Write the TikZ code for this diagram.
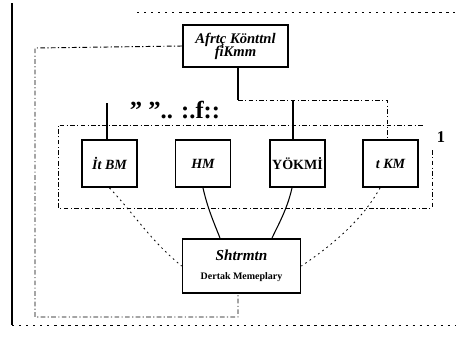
\documentclass[tikz,border=0pt]{standalone}
\usepackage{fontspec}
\setmainfont{Liberation Serif}
\begin{document}
\begin{tikzpicture}[x=0.03cm,y=-0.03cm,
  unitbox/.style={draw,line width=1.6pt,minimum width=1.65cm,minimum height=1.41cm,
    inner sep=1pt,font=\fontsize{12}{13}\selectfont\bfseries\itshape},
  bigbox/.style={draw,line width=1.6pt,inner sep=1pt,align=center},
  frameline/.style={line width=0.8pt,dash pattern=on 2pt off 4pt},
  loopline/.style={line width=0.8pt,dash pattern=on 4pt off 2pt on 1pt off 2pt},
  linkline/.style={line width=0.9pt},
  softlink/.style={line width=0.7pt,dash pattern=on 1.5pt off 3pt}]
\useasboundingbox (0,0) rectangle (457,353);
% outer frame
\draw[line width=1pt] (12,3) -- (12,325);
\draw[frameline] (12,325) -- (455,325);
\draw[frameline] (137,12) -- (455,12);
% boxes
\node[bigbox,minimum width=3.15cm,minimum height=1.26cm] (cont) at (235.5,46)
  {{\fontsize{12.5}{13}\selectfont\bfseries\itshape Afrtç Könttnl}\\[-1pt]
   {\fontsize{12.5}{13}\selectfont\bfseries\itshape fiKmm}};
\node[unitbox] (itbm) at (109.5,163.5) {İt BM};
\node[unitbox] (hm) at (203,163.5) {HM};
\node[unitbox,font=\fontsize{12}{13}\selectfont\bfseries] (yokm) at (297.5,163.5) {YÖKMİ};
\node[unitbox] (tkm) at (390.5,163.5) {t KM};
\node[bigbox,minimum width=3.54cm,minimum height=1.62cm] (sht) at (241.5,266)
  {{\fontsize{13}{14}\selectfont\bfseries\itshape Shtrmtn}\\[4pt]
   {\fontsize{8.5}{9}\selectfont\bfseries Dertak Memeplary}};
% group of units
\draw[loopline] (432,150) -- (432,208) -- (58,208) -- (58,125) -- (423,125);
\node[font=\fontsize{14}{14}\selectfont\bfseries] (one) at (441,137) {1};
\node[font=\fontsize{21}{21}\selectfont\bfseries] (marks) at (175,110) {" ".. :.f::};
% top links
\coordinate (split) at (238,100);
\coordinate (leftend) at (107,103);
\draw[linkline] (cont.south -| split) -- (split);
\draw[loopline] (split) -| (tkm.north -| 387,0);
\draw[linkline] (split -| 293,0) -- (yokm.north -| 293,0);
\draw[linkline] (leftend) -- (itbm.north -| leftend);
% feedback loop
\draw[loopline] (cont.west) -- (35,48) -- (35,317) -- (238,317) -- (sht.south -| 238,0);
% links to bottom box
\draw[softlink] (itbm.south) .. controls (135,215) and (150,240) .. (sht.west);
\draw[linkline] (hm.south) .. controls (208,210) and (215,225) .. (sht.north -| 220,0);
\draw[linkline] (yokm.south -| 292,0) .. controls (287,210) and (278,225) .. (sht.north -| 272,0);
\draw[softlink] (tkm.south -| 380,0) .. controls (365,215) and (340,240) .. (sht.east);
\end{tikzpicture}
\end{document}
